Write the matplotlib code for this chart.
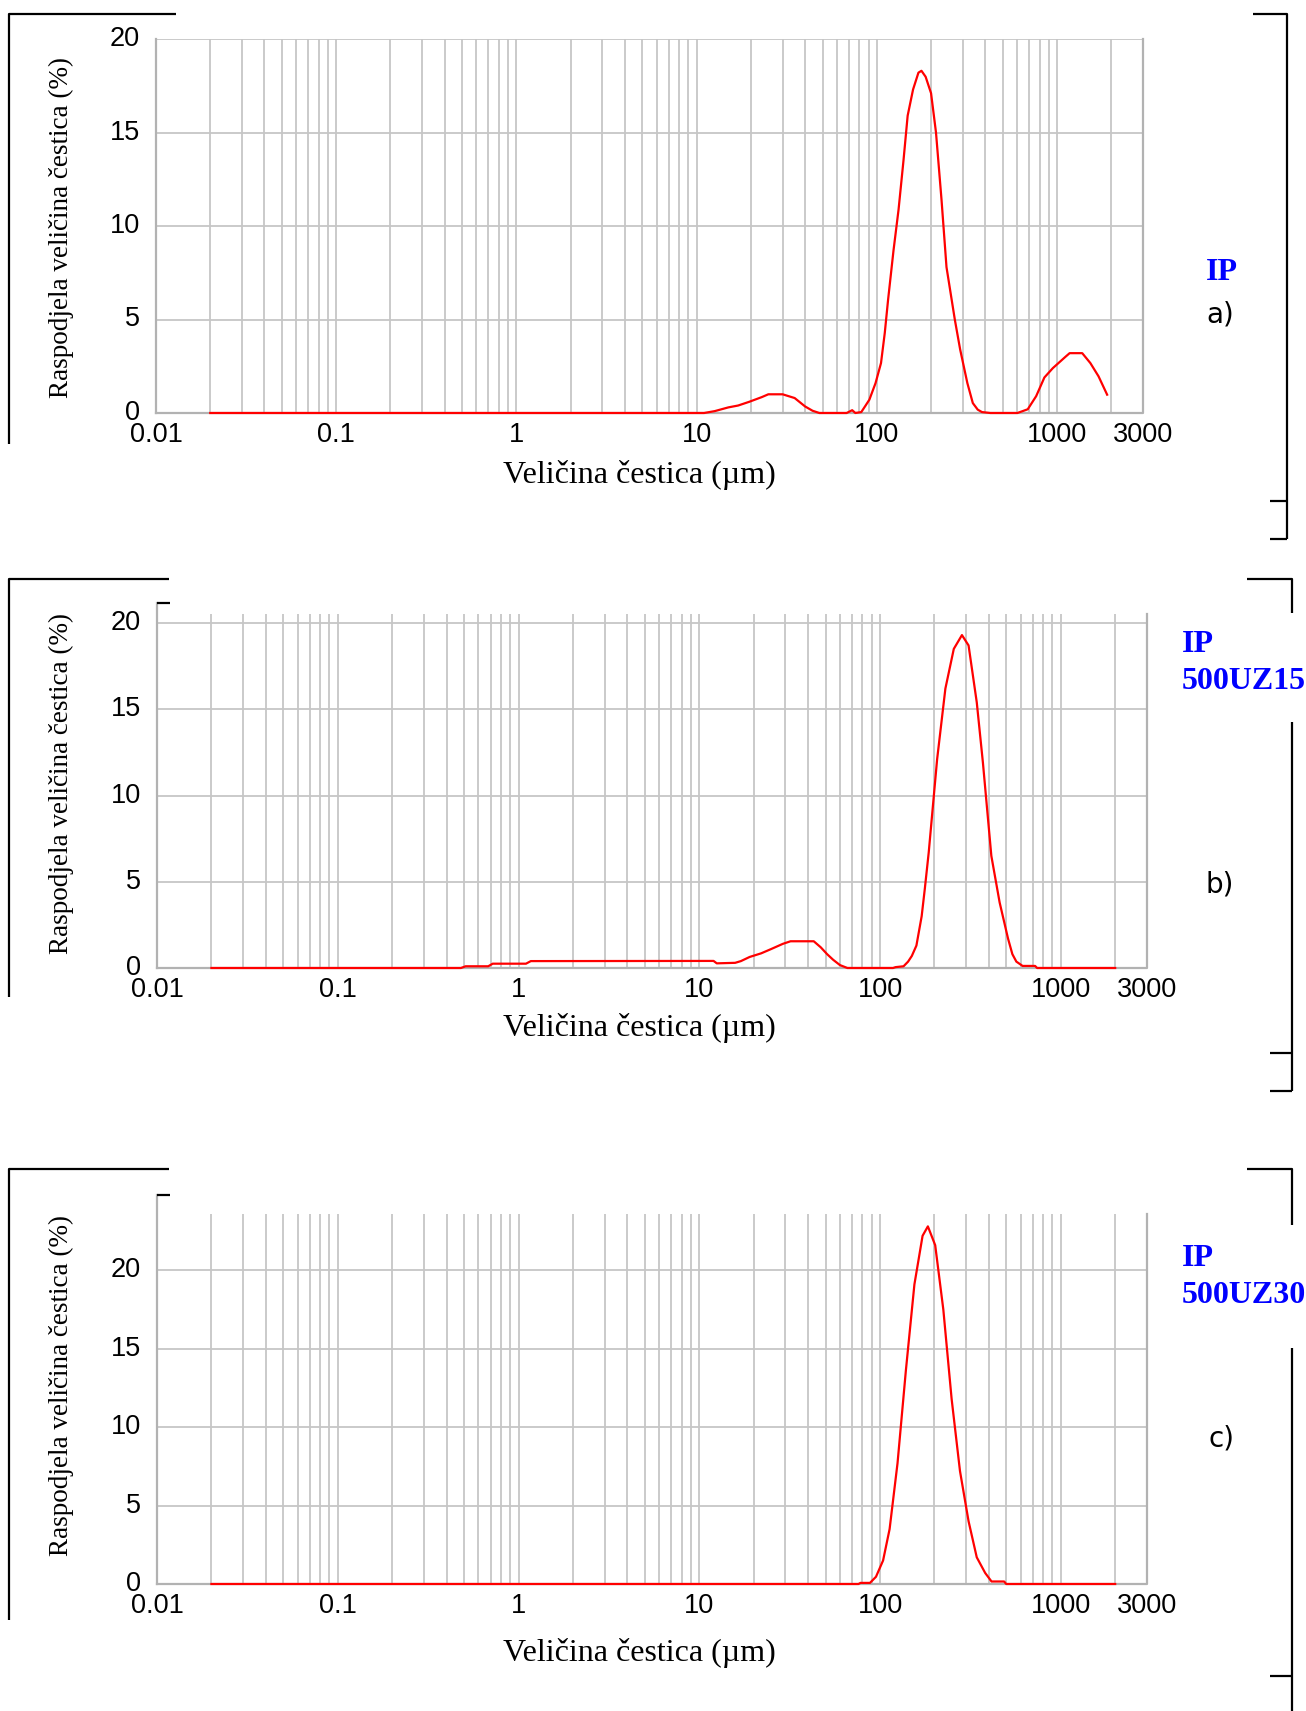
import matplotlib
matplotlib.use('Agg')
import matplotlib.pyplot as plt
from matplotlib.lines import Line2D
from matplotlib.ticker import NullLocator
from matplotlib.transforms import ScaledTranslation

W, H = 1306, 1711

# podaci - velicina cestica (um) i raspodjela (%)
size_a = [0.02, 11, 12.6, 15, 17, 19.6, 23, 25, 30, 35, 40, 44, 48, 68, 73, 76, 82,
          86.1, 90.9, 98.4, 105.5, 110.7, 115.5, 123.8, 132, 140.6, 148.3, 158.9, 170.2,
          176.9, 186.6, 200, 213, 228.6, 243.6, 271, 290, 318, 341, 363, 383, 427,
          603, 688, 766, 851, 948, 1112, 1175, 1380, 1531, 1700, 1897]
dist_a = [0, 0, 0.1, 0.3, 0.4, 0.6, 0.85, 1.0, 1.0, 0.8, 0.35, 0.12, 0, 0, 0.15, 0, 0.05,
          0.36, 0.71, 1.6, 2.67, 4.28, 6.06, 8.7, 10.87, 13.5, 15.9, 17.3, 18.2,
          18.3, 17.98, 17.1, 15.0, 11.4, 7.8, 4.99, 3.4, 1.6, 0.53, 0.18, 0.05, 0,
          0, 0.2, 0.9, 1.9, 2.4, 3.0, 3.2, 3.2, 2.67, 1.96, 0.98]

size_b = [0.02, 0.48, 0.51, 0.68, 0.72, 1.1, 1.17, 12, 12.5, 15.8, 17, 19, 22, 25, 29,
          32, 43, 47, 51, 55, 60, 66, 118, 122, 135, 143, 150, 159, 170, 177, 186, 207,
          230, 256, 284, 309, 343, 371, 413, 459, 511, 540, 568, 615, 721, 740, 2000]
dist_b = [0, 0, 0.1, 0.1, 0.25, 0.25, 0.4, 0.41, 0.27, 0.3, 0.4, 0.64, 0.85, 1.1, 1.4,
          1.55, 1.55, 1.2, 0.8, 0.48, 0.17, 0, 0, 0.05, 0.1, 0.37, 0.7, 1.3, 3.0, 4.6, 6.7, 12.1,
          16.2, 18.5, 19.3, 18.7, 15.4, 11.9, 6.5, 3.8, 1.7, 0.8, 0.37, 0.12, 0.12, 0, 0]

size_c = [0.02, 76, 78, 88, 95, 104, 113, 125, 139, 155, 172, 184, 202, 224, 249, 277,
          309, 343, 382, 414, 486, 499, 2000]
dist_c = [0, 0, 0.07, 0.07, 0.46, 1.5, 3.5, 7.7, 13.6, 19.1, 22.2, 22.8, 21.6, 17.5, 11.8, 7.2,
          4.0, 1.7, 0.7, 0.16, 0.16, 0, 0]

xtick_vals = [0.01, 0.1, 1, 10, 100, 1000, 3000]
xtick_labels = ['0.01', '0.1', '1', '10', '100', '1000', '3000']
ytick_vals = [0, 5, 10, 15, 20]

grid_c = '#c6c6c6'
frame_c = '#b2b2b2'

fig = plt.figure(figsize=(W / 100, H / 100), dpi=100)


def px_line(xs, ys, lw=1.6):
    fig.add_artist(Line2D([x / W for x in xs], [1 - y / H for y in ys],
                          color='black', lw=lw, solid_capstyle='butt'))


def px_text(x, y, s, **kw):
    fig.text(x / W, 1 - y / H, s, **kw)


def panel(box, size, dist, ytop, gridtop, black_tick):
    l, t, r, b = box
    ax = fig.add_axes([l / W, 1 - b / H, (r - l) / W, (b - t) / H])
    ax.set_xscale('log')
    ax.set_xlim(0.01, 3000)
    ax.set_ylim(0, ytop)
    for s in ax.spines.values():
        s.set_visible(False)

    # mreza
    gx = [m * 10.0 ** e for e in range(-2, 4) for m in range(1, 10)]
    gx = [v for v in gx if 0.01 < v < 3000]
    ax.vlines(gx, 0, gridtop, colors=grid_c, lw=1.3, zorder=1)
    ax.hlines([5, 10, 15, 20], 0.01, 3000, colors=grid_c, lw=1.3, zorder=1)

    # okvir
    ax.plot([0.01, 0.01], [0, ytop], color=frame_c, lw=1.6, clip_on=False, zorder=2)
    ax.plot([0.01, 3000, 3000], [0, 0, gridtop], color=frame_c, lw=1.6,
            clip_on=False, zorder=2)
    if black_tick:
        px_line([l, l + 13], [t, t], lw=1.6)

    ax.plot(size, dist, color='#ff0000', lw=1.6, zorder=3, clip_on=False)

    ax.set_xticks(xtick_vals, xtick_labels)
    ax.xaxis.set_minor_locator(NullLocator())
    ax.set_yticks(ytick_vals)
    ax.tick_params(length=0, labelsize=19.5)
    ax.tick_params(axis='x', pad=6.5)
    ax.tick_params(axis='y', pad=11.5)
    for lab in ax.get_xticklabels() + ax.get_yticklabels():
        lab.set_family('Liberation Sans')
    for lab in ax.get_yticklabels():
        lab.set_transform(lab.get_transform() + ScaledTranslation(0, 3 / 100, fig.dpi_scale_trans))
    return ax


# a)
panel((156, 39, 1143, 413), size_a, dist_a, 20, 20, False)
# b)
panel((157, 603, 1147, 968), size_b, dist_b, 21.16, 20.52, True)
# c)
panel((157, 1195, 1147, 1584), size_c, dist_c, 24.8, 23.6, True)

ylab = 'Raspodjela veličina čestica (%)'
xlab = 'Veličina čestica (µm)'
for yc in [228, 783, 1386]:
    px_text(61, yc, ylab, rotation=90, ha='center', va='center',
            family='Liberation Serif', fontsize=19.5)
for yc in [475, 1028, 1653]:
    px_text(639, yc, xlab, ha='center', va='center',
            family='Liberation Serif', fontsize=23)

# oznake uzoraka
lab_kw = dict(family='Liberation Serif', fontweight='bold', color='#0000ff',
              fontsize=23, ha='left', va='baseline')
px_text(1206, 280, 'IP', **lab_kw)
px_text(1182, 652, 'IP', **lab_kw)
px_text(1182, 689, '500UZ15', **lab_kw)
px_text(1182, 1266, 'IP', **lab_kw)
px_text(1182, 1303, '500UZ30', **lab_kw)

sub_kw = dict(family='DejaVu Sans', fontsize=20, ha='center', va='center')
px_text(1220, 314, 'a)', **sub_kw)
px_text(1220, 884, 'b)', **sub_kw)
px_text(1221, 1439, 'c)', **sub_kw)

# zagrade
px_line([176, 9, 9], [14, 14, 444])
px_line([1253, 1287, 1287], [14, 14, 539])
px_line([1270, 1287], [501, 501])
px_line([1270, 1287], [539, 539])

px_line([169, 9, 9], [579, 579, 997])
px_line([1247, 1292, 1292], [579, 579, 613])
px_line([1292, 1292], [722, 1091])
px_line([1270, 1292], [1053, 1053])
px_line([1270, 1292], [1091, 1091])

px_line([169, 9, 9], [1169, 1169, 1620])
px_line([1247, 1292, 1292], [1169, 1169, 1225])
px_line([1292, 1292], [1348, 1711])
px_line([1270, 1292], [1676, 1676])

fig.savefig('out.png', dpi=100, facecolor='white')
